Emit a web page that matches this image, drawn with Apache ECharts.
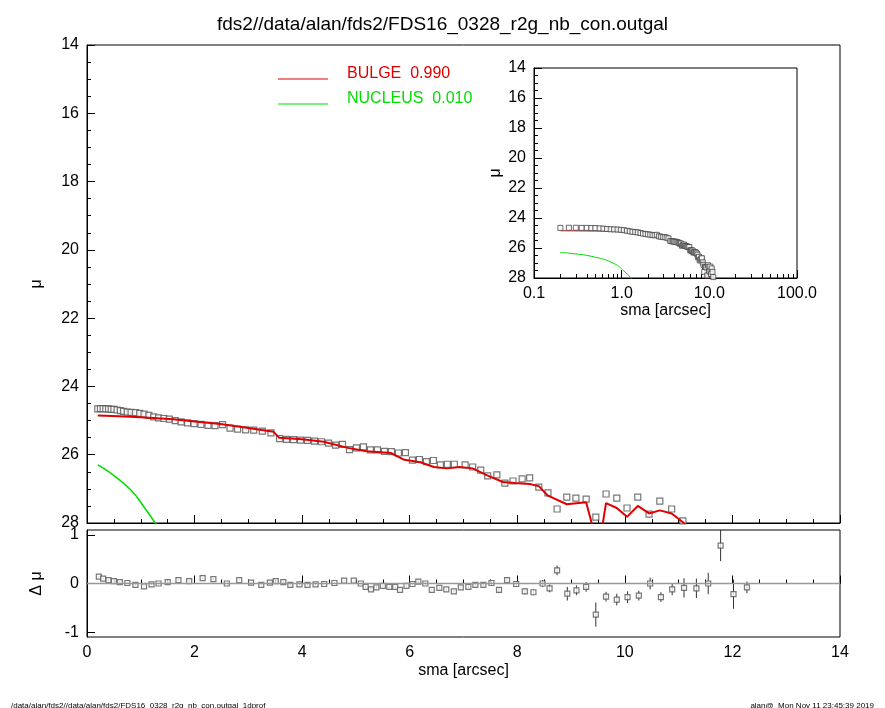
<!DOCTYPE html>
<html>
<head>
<meta charset="utf-8">
<script src="https://cdn.jsdelivr.net/npm/echarts@6/dist/echarts.min.js"></script>
<style>body{margin:0;background:#fff}#c{width:885px;height:708px}</style>
</head>
<body>
<div id="c"></div>
<script>
// observed profile (sma, mu)
const smaObs = [0.20,0.25,0.30,0.35,0.40,0.45,0.50,0.56,0.62,0.68,0.75,0.82,0.90,0.98,1.06,1.15,1.24,1.33,1.43,1.53,1.64,1.75,1.87,1.99,2.12,2.25,2.38,2.52,2.66,2.80,2.95,3.10,3.26,3.42,
  3.58,3.71,3.84,3.97,4.10,4.23,4.36,4.49,4.62,4.75,4.88,5.01,5.14,5.27,5.40,5.53,5.66,5.79,5.92,6.05,6.18,6.31,6.44,6.57,6.70,6.83,
  7.03,7.17,7.32,7.45,7.62,7.77,7.92,8.09,8.23,8.40,8.57,8.74,8.92,9.09,9.28,9.46,9.65,9.85,10.04,10.24,10.45,10.65,10.87,11.08,11.30];
const muObs = [24.66,24.65,24.65,24.66,24.66,24.67,24.67,24.69,24.71,24.73,24.75,24.76,24.77,24.79,24.81,24.85,24.89,24.92,24.94,24.96,25.00,25.04,25.07,25.09,25.11,25.14,25.15,25.12,25.22,25.25,25.27,25.28,25.31,25.36,
  25.53,25.55,25.56,25.57,25.58,25.60,25.62,25.66,25.72,25.70,25.85,25.80,25.77,25.86,25.86,25.90,25.91,25.95,25.94,26.16,26.14,26.20,26.17,26.30,26.28,26.28,
  26.30,26.36,26.45,26.62,26.59,26.83,26.77,26.71,26.68,26.95,27.12,27.59,27.24,27.27,27.30,27.83,27.15,27.27,27.56,27.24,27.74,27.36,27.59,27.94,28.03];
// bulge model
const smaModel = [0.20,0.60,1.00,1.60,2.00,2.48,3.00,3.47,3.57,4.00,4.40,4.85,5.20,5.65,5.90,6.20,6.45,6.70,6.93,7.17,7.43,7.73,7.95,8.23,8.40,8.57,8.92,9.28,9.45,9.55,9.65,9.85,10.04,10.24,10.45,10.65,10.87,11.08,11.30];
const muBulge = [24.85,24.87,24.90,24.96,25.03,25.10,25.22,25.33,25.50,25.55,25.62,25.80,25.90,25.95,26.15,26.22,26.36,26.40,26.36,26.40,26.60,26.80,26.83,26.86,26.92,27.20,27.45,27.39,28.40,28.40,27.42,27.56,27.82,27.50,27.72,27.63,27.72,27.98,28.30];
// nucleus model
const smaNuc = [0.20,0.24,0.49,0.82,1.06,1.27,1.50];
const muNuc = [26.30,26.33,26.60,27.04,27.53,28.00,28.50];
// residuals
const smaRes = [0.22,0.30,0.40,0.50,0.61,0.75,0.90,1.06,1.20,1.33,1.50,1.70,1.90,2.15,2.35,2.60,2.83,3.05,3.24,3.40,3.51,3.65,3.78,3.95,4.10,4.25,4.41,4.60,4.78,4.96,5.09,5.18,5.28,5.38,5.50,5.62,5.73,5.82,5.94,6.05,6.16,6.29,6.41,6.55,6.68,6.82,6.95,7.09,7.22,7.37,7.52,7.66,7.81,7.98,8.14,8.30,8.47,8.60,8.74,8.93,9.10,9.28,9.46,9.65,9.85,10.05,10.26,10.47,10.67,10.88,11.10,11.33,11.55,11.78,12.02,12.27];
const dMu = [0.14,0.10,0.07,0.05,0.03,0.01,-0.03,-0.06,-0.02,0.00,0.03,0.07,0.05,0.11,0.09,0.00,0.07,0.02,-0.03,0.02,0.05,0.03,-0.03,-0.02,-0.03,-0.02,-0.01,0.01,0.06,0.06,0.00,-0.07,-0.12,-0.08,-0.05,-0.07,-0.07,-0.13,-0.05,-0.01,0.04,0.00,-0.13,-0.09,-0.12,-0.16,-0.08,-0.07,-0.03,-0.03,0.01,-0.13,0.07,-0.01,-0.16,-0.18,0.00,-0.10,0.27,-0.21,-0.14,-0.07,-0.64,-0.27,-0.33,-0.28,-0.25,0.00,-0.28,-0.12,-0.09,-0.10,0.00,0.78,-0.22,-0.08];
const dMuErr = [0.02,0.02,0.02,0.02,0.02,0.02,0.02,0.02,0.02,0.02,0.02,0.02,0.02,0.02,0.02,0.02,0.02,0.02,0.02,0.02,0.02,0.02,0.02,0.02,0.02,0.02,0.02,0.02,0.02,0.02,0.02,0.03,0.03,0.03,0.03,0.03,0.03,0.03,0.03,0.03,0.03,0.03,0.03,0.03,0.03,0.03,0.04,0.04,0.04,0.04,0.05,0.05,0.06,0.06,0.06,0.06,0.07,0.08,0.10,0.14,0.10,0.10,0.25,0.10,0.12,0.12,0.10,0.12,0.10,0.12,0.20,0.20,0.22,0.32,0.30,0.12];
const resTicks = [-1, 0, 1];

const zip = (a, b) => a.map((v, i) => [v, b[i]]);
const font = 'Liberation Sans, Helvetica, Arial, sans-serif';
const lab = {color: '#000', fontSize: 16, fontFamily: font};
const tick = {inside: true, length: 8, lineStyle: {color: '#000'}};
const minor = {show: true, splitNumber: 4, length: 4, lineStyle: {color: '#000'}};
const axLine = {lineStyle: {color: '#000'}};
const sqr = {color: '#fff', borderColor: '#555', borderWidth: 1.2};
const nameStyle = {color: '#000', fontSize: 16, fontFamily: font};

var chart = echarts.init(document.getElementById('c'));
chart.setOption({
  animation: false,
  title: [
    {text: 'fds2//data/alan/fds2/FDS16_0328_r2g_nb_con.outgal', left: 'center', top: 10,
      textStyle: {fontSize: 19, fontWeight: 'normal', color: '#000', fontFamily: font}},
    {text: '/data/alan/fds2//data/alan/fds2/FDS16_0328_r2g_nb_con.outgal_1dprof', left: 6, top: 697,
      textStyle: {fontSize: 8, fontWeight: 'normal', color: '#000', fontFamily: font}},
    {text: 'alan@  Mon Nov 11 23:45:39 2019', right: 6, top: 697,
      textStyle: {fontSize: 8, fontWeight: 'normal', color: '#000', fontFamily: font}}
  ],
  grid: [
    {left: 87, right: 45, top: 45, height: 478, show: true, borderColor: '#000', borderWidth: 1},
    {left: 87, right: 45, top: 530, height: 107, show: true, borderColor: '#000', borderWidth: 1},
    {left: 534, width: 263, top: 68, height: 210, show: true, borderColor: '#000', borderWidth: 1, backgroundColor: '#fff', z: 5}
  ],
  xAxis: [
    {gridIndex: 0, type: 'value', min: 0, max: 14, interval: 2, axisLabel: {show: false}, axisTick: tick, minorTick: minor, axisLine: axLine, splitLine: {show: false}},
    {gridIndex: 1, type: 'value', min: 0, max: 14, interval: 2, axisLabel: lab, axisTick: tick, minorTick: minor, axisLine: axLine, splitLine: {show: false},
      name: 'sma [arcsec]', nameLocation: 'middle', nameGap: 26, nameTextStyle: nameStyle},
    {gridIndex: 2, type: 'log', min: 0.1, max: 100, logBase: 10, axisLabel: Object.assign({formatter: v => v.toFixed(1)}, lab),
      axisTick: tick, minorTick: {show: true, splitNumber: 9, length: 4, lineStyle: {color: '#000'}}, axisLine: axLine, splitLine: {show: false}, z: 6,
      name: 'sma [arcsec]', nameLocation: 'middle', nameGap: 22, nameTextStyle: nameStyle}
  ],
  yAxis: [
    {gridIndex: 0, type: 'value', min: 14, max: 28, interval: 2, inverse: true, axisLabel: lab, axisTick: tick, minorTick: minor, axisLine: axLine, splitLine: {show: false},
      name: 'μ', nameLocation: 'middle', nameGap: 42, nameRotate: 90, nameTextStyle: nameStyle},
    {gridIndex: 1, type: 'value', min: -1.1, max: 1.1, axisLabel: Object.assign({customValues: resTicks}, lab),
      axisTick: {inside: true, length: 8, customValues: resTicks, lineStyle: {color: '#000'}}, axisLine: axLine, splitLine: {show: false},
      name: 'Δ μ', nameLocation: 'middle', nameGap: 42, nameRotate: 90, nameTextStyle: nameStyle},
    {gridIndex: 2, type: 'value', min: 14, max: 28, interval: 2, inverse: true, axisLabel: lab, axisTick: tick, minorTick: minor, axisLine: axLine, splitLine: {show: false}, z: 6,
      name: 'μ', nameLocation: 'middle', nameGap: 30, nameRotate: 90, nameTextStyle: nameStyle}
  ],
  series: [
    {type: 'scatter', xAxisIndex: 0, yAxisIndex: 0, data: zip(smaObs, muObs), symbol: 'rect', symbolSize: 6, itemStyle: sqr},
    {type: 'line', xAxisIndex: 0, yAxisIndex: 0, data: zip(smaModel, muBulge), showSymbol: false, lineStyle: {color: '#e00000', width: 2}},
    {type: 'line', xAxisIndex: 0, yAxisIndex: 0, data: zip(smaNuc, muNuc), showSymbol: false, smooth: true, lineStyle: {color: '#00dd00', width: 1.5}},
    {type: 'line', xAxisIndex: 1, yAxisIndex: 1, data: [[0, 0], [14, 0]], showSymbol: false, lineStyle: {color: '#999', width: 1.5}},
    {type: 'custom', xAxisIndex: 1, yAxisIndex: 1, data: smaRes.map((x, i) => [x, dMu[i], dMuErr[i]]),
      renderItem: (params, api) => {
        const x = api.value(0), y = api.value(1), e = api.value(2);
        const p1 = api.coord([x, y - e]), p2 = api.coord([x, y + e]);
        return {type: 'line', shape: {x1: p1[0], y1: p1[1], x2: p2[0], y2: p2[1]}, style: {stroke: '#333', lineWidth: 1}};
      }},
    {type: 'scatter', xAxisIndex: 1, yAxisIndex: 1, data: zip(smaRes, dMu), symbol: 'rect', symbolSize: 5, itemStyle: sqr},
    {type: 'scatter', xAxisIndex: 2, yAxisIndex: 2, data: zip(smaObs, muObs), symbol: 'rect', symbolSize: 5, itemStyle: {color: '#fff', borderColor: '#444', borderWidth: 1}, z: 7},
    {type: 'line', xAxisIndex: 2, yAxisIndex: 2, data: zip(smaModel, muBulge), showSymbol: false, lineStyle: {color: '#e00000', width: 1}, z: 7},
    {type: 'line', xAxisIndex: 2, yAxisIndex: 2, data: zip(smaNuc, muNuc), showSymbol: false, smooth: true, lineStyle: {color: '#00dd00', width: 1}, z: 7}
  ],
  graphic: [
    {type: 'line', shape: {x1: 278, y1: 79, x2: 328, y2: 79}, style: {stroke: '#e00000', lineWidth: 1}},
    {type: 'text', left: 347, top: 66, style: {text: 'BULGE  0.990', fill: '#e00000', font: '16px ' + font}},
    {type: 'line', shape: {x1: 278, y1: 104, x2: 328, y2: 104}, style: {stroke: '#00dd00', lineWidth: 1}},
    {type: 'text', left: 347, top: 91, style: {text: 'NUCLEUS  0.010', fill: '#00dd00', font: '16px ' + font}}
  ]
});
</script>
</body>
</html>
